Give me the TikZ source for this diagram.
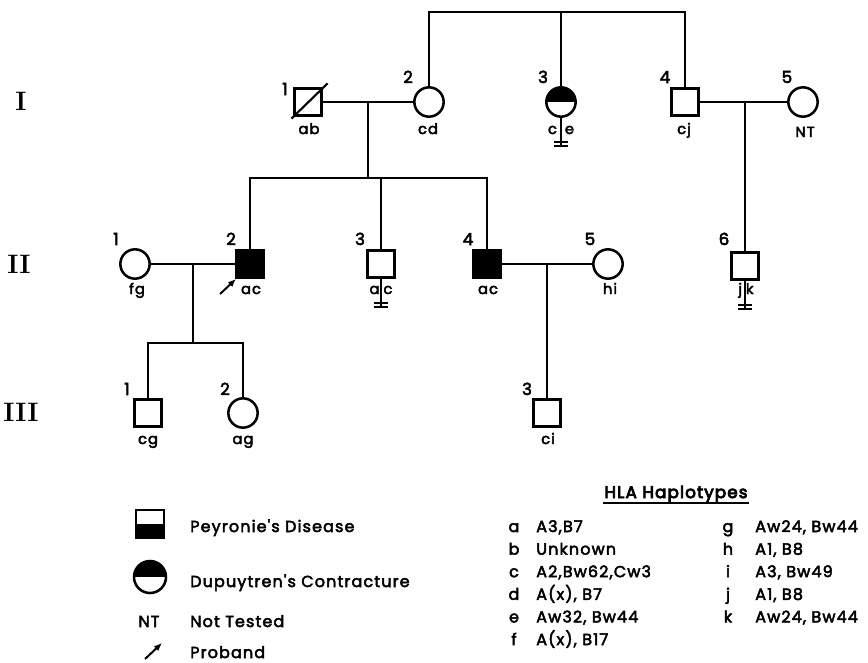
\documentclass[tikz,border=0pt]{standalone}
\usepackage{fontspec}
\newfontfamily\pf{Poppins}[LetterSpace=7,FakeBold=3]
\newfontfamily\pfb{Poppins}[LetterSpace=7,FakeBold=5]
\usetikzlibrary{arrows.meta}
\newcommand\noissue[1]{%
  \draw (#1.south) -- ++(0,28) coordinate (#1e);
  \draw[line width=1.4pt] ([shift={(-7,0)}]#1e) -- ([shift={(7,0)}]#1e);
  \draw[line width=1.4pt] ([shift={(-7,-4)}]#1e) -- ([shift={(7,-4)}]#1e);}
\begin{document}
\begin{tikzpicture}[x=0.75pt,y=-0.75pt,line width=1.9pt,
  male/.style={draw,rectangle,minimum size=20pt,inner sep=0pt},
  female/.style={draw,circle,minimum size=22pt,inner sep=0pt},
  tophalf/.style={path picture={\fill (path picture bounding box.north west) rectangle (path picture bounding box.east);}},
  bothalf/.style={path picture={\fill (path picture bounding box.west) rectangle (path picture bounding box.south east);}},
  num/.style={font=\pf\fontsize{12.5}{12.5}\selectfont,inner sep=0pt,anchor=base},
  geno/.style={font=\pf\fontsize{11}{11}\selectfont,inner sep=0pt,anchor=base},
  gen/.style={font=\bfseries\fontsize{20}{20}\selectfont,inner sep=0pt},
  leg/.style={font=\pf\fontsize{12}{12}\selectfont,inner sep=0pt,anchor=base west},
  tip/.style={-{Latex[length=6pt,width=5pt]},line width=1.5pt}]
\useasboundingbox (0,0) rectangle (868,662);

% generation labels
\node[gen] (gI) at (21,101) {I};
\node[gen] (gII) at (19,264) {II};
\node[gen] (gIII) at (21,412) {III};

% generation I
\node[male] (I1) at (308,102) {};
\draw[line width=1.6pt] ([shift={(-2,2)}]I1.south west) -- ([shift={(5,-4)}]I1.north east);
\node[female] (I2) at (429,102) {};
\node[female,tophalf] (I3) at (561,102) {};
\node[male] (I4) at (685,102) {};
\node[female] (I5) at (803,102) {};

\node[num] (nI1) at (285,95) {1};
\node[num] (nI2) at (408,83) {2};
\node[num] (nI3) at (543,83) {3};
\node[num] (nI4) at (665,83) {4};
\node[num] (nI5) at (787,83) {5};

\node[geno] (gtI1) at (309,134) {ab};
\node[geno] (gtI2) at (428,134) {cd};
\node[geno] (gtI3) at (561,134) {c\hspace{6pt}e};
\node[geno] (gtI4) at (684,134) {cj};
\node[geno] (gtI5) at (805,137) {NT};

% generation II
\node[female] (II1) at (135,264) {};
\node[male,fill=black] (II2) at (250,264) {};
\node[male] (II3) at (381,264) {};
\node[male,fill=black] (II4) at (487,264) {};
\node[female] (II5) at (608,264) {};
\node[male] (II6) at (745,266) {};

\node[num] (nII1) at (116,245) {1};
\node[num] (nII2) at (231,245) {2};
\node[num] (nII3) at (360,245) {3};
\node[num] (nII4) at (468,245) {4};
\node[num] (nII5) at (590,245) {5};
\node[num] (nII6) at (724,245) {6};

\node[geno] (gtII1) at (137,294) {fg};
\node[geno] (gtII2) at (251,294) {ac};
\node[geno] (gtII3) at (381,294) {a\hspace{3pt}c};
\node[geno] (gtII4) at (488,294) {ac};
\node[geno] (gtII5) at (610,294) {hi};
\node[geno] (gtII6) at (746,294) {j\hspace{3pt}k};

% generation III
\node[male] (III1) at (148,413) {};
\node[female] (III2) at (243,413) {};
\node[male] (III3) at (547,413) {};

\node[num] (nIII1) at (127,395) {1};
\node[num] (nIII2) at (225,395) {2};
\node[num] (nIII3) at (527,395) {3};

\node[geno] (gtIII1) at (148,444) {cg};
\node[geno] (gtIII2) at (243,444) {ag};
\node[geno] (gtIII3) at (548,444) {ci};

% connectors
\coordinate (tI) at (561,12);
\draw (I2.north) |- (tI) -| (I4.north);
\draw (tI) -- (I3.north);
\draw (I1) -- (I2);
\coordinate (mI) at (368,102);
\coordinate (sII) at (368,178);
\draw (mI) -- (sII);
\draw (II2.north) |- (sII) -| (II4.north);
\draw (II3.north) -- (II3.north |- sII);
\draw (I4) -- (I5);
\coordinate (mI2) at (745,102);
\draw (mI2) -- (II6.north);
\draw (II1) -- (II2);
\coordinate (mII) at (193,264);
\coordinate (sIII) at (193,343);
\draw (mII) -- (sIII);
\draw (III1.north) |- (sIII) -| (III2.north);
\draw (II4) -- (II5);
\coordinate (mII2) at (547,264);
\draw (mII2) -- (III3.north);

\noissue{I3}
\noissue{II3}
\noissue{II6}

% proband arrow
\coordinate (pb1) at (220,294);
\coordinate (pb2) at (236,279);
\draw[tip] (pb1) -- (pb2);

% legend
\node[male,bothalf,minimum size=21pt] (LP) at (150,524) {};
\node[female,tophalf,minimum size=24pt] (LD) at (150,577) {};
\node[leg] (LPt) at (189,532) {Peyronie's Disease};
\node[leg] (LDt) at (189,587) {Dupuytren's Contracture};
\node[leg,anchor=base] (LNT) at (149,627) {NT};
\node[leg] (LNTt) at (189,627) {Not Tested};
\coordinate (lp1) at (145,659);
\coordinate (lp2) at (162,643);
\draw[tip] (lp1) -- (lp2);
\node[leg] (LPb) at (189,658) {Proband};

% HLA table
\node[font=\pfb\fontsize{12.5}{12.5}\selectfont,inner sep=0pt,anchor=base] (hla) at (676,498) {HLA Haplotypes};
\draw[line width=1.4pt] ([shift={(0,5)}]hla.base west) -- ([shift={(0,5)}]hla.base east);
\foreach \l/\t [count=\i] in {a/{A3,B7},b/Unknown,c/{A2,Bw62,Cw3},d/{A(x), B7},e/{Aw32, Bw44},f/{A(x), B17}}{
  \node[leg,anchor=base] (hl\i) at (514,{532+22.6*(\i-1)}) {\l};
  \node[leg] (ht\i) at (535,{532+22.6*(\i-1)}) {\t};
}
\foreach \l/\t [count=\i] in {g/{Aw24, Bw44},h/{A1, B8},i/{A3, Bw49},j/{A1, B8},k/{Aw24, Bw44}}{
  \node[leg,anchor=base] (hr\i) at (728,{532+22.6*(\i-1)}) {\l};
  \node[leg] (hs\i) at (754,{532+22.6*(\i-1)}) {\t};
}
\end{tikzpicture}
\end{document}
